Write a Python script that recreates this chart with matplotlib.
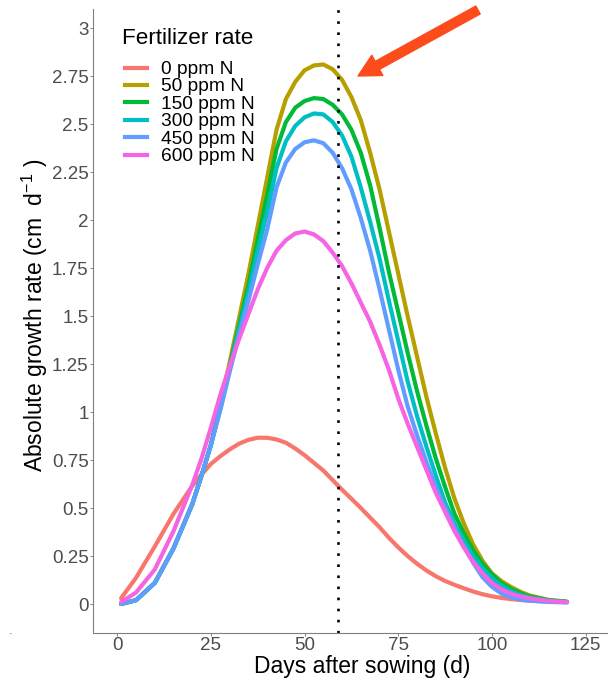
import matplotlib
matplotlib.use("Agg")
import matplotlib.pyplot as plt
from matplotlib.lines import Line2D

plt.rcParams['font.family'] = ['Liberation Sans', 'DejaVu Sans']
plt.rcParams['mathtext.fontset'] = 'custom'
plt.rcParams['mathtext.rm'] = 'Liberation Sans'
plt.rcParams['mathtext.it'] = 'Liberation Sans:italic'
plt.rcParams['mathtext.default'] = 'regular'

# ---------------- data ----------------
days = [1, 5, 10, 15, 20, 22.5, 25, 27.5, 30, 32.5, 35, 37.5, 40, 42.5, 45, 47.5,
        50, 52.5, 55, 57.5, 60, 62.5, 65, 67.5, 70, 72.5, 75, 77.5, 80, 82.5, 85,
        87.5, 90, 92.5, 95, 97.5, 100, 102.5, 105, 107.5, 110, 115, 120]

rate_0 = [0.03, 0.137, 0.30, 0.47, 0.615, 0.675, 0.73, 0.77, 0.805, 0.835, 0.855,
          0.866, 0.866, 0.857, 0.84, 0.81, 0.775, 0.735, 0.695, 0.645, 0.595,
          0.548, 0.50, 0.45, 0.40, 0.345, 0.295, 0.25, 0.21, 0.175, 0.145, 0.12,
          0.10, 0.082, 0.065, 0.051, 0.04, 0.032, 0.026, 0.021, 0.017, 0.012, 0.01]
rate_50 = [0.0, 0.02, 0.11, 0.29, 0.52, 0.67, 0.83, 1.04, 1.26, 1.49, 1.72, 1.97,
           2.22, 2.47, 2.63, 2.72, 2.78, 2.805, 2.81, 2.785, 2.73, 2.64, 2.52, 2.35,
           2.16, 1.94, 1.72, 1.50, 1.29, 1.08, 0.89, 0.71, 0.55, 0.42, 0.31, 0.225,
           0.16, 0.12, 0.09, 0.065, 0.045, 0.022, 0.012]
rate_150 = [0.0, 0.02, 0.11, 0.29, 0.52, 0.67, 0.83, 1.03, 1.24, 1.45, 1.66, 1.90,
            2.13, 2.37, 2.51, 2.585, 2.62, 2.635, 2.63, 2.60, 2.55, 2.47, 2.35,
            2.18, 1.96, 1.73, 1.52, 1.31, 1.11, 0.93, 0.76, 0.61, 0.47, 0.37, 0.28,
            0.21, 0.155, 0.11, 0.08, 0.057, 0.04, 0.02, 0.012]
rate_300 = [0.0, 0.02, 0.11, 0.29, 0.52, 0.67, 0.83, 1.02, 1.23, 1.43, 1.62, 1.84,
            2.04, 2.27, 2.41, 2.49, 2.535, 2.555, 2.55, 2.51, 2.44, 2.33, 2.17,
            1.99, 1.80, 1.58, 1.37, 1.16, 0.98, 0.82, 0.67, 0.53, 0.42, 0.33, 0.25,
            0.185, 0.135, 0.095, 0.068, 0.048, 0.034, 0.018, 0.01]
rate_450 = [0.0, 0.02, 0.11, 0.29, 0.52, 0.67, 0.83, 1.01, 1.21, 1.40, 1.58, 1.77,
            1.95, 2.17, 2.30, 2.37, 2.405, 2.415, 2.40, 2.35, 2.27, 2.16, 2.01,
            1.84, 1.64, 1.43, 1.22, 1.03, 0.88, 0.74, 0.61, 0.50, 0.40, 0.30, 0.215,
            0.14, 0.09, 0.055, 0.035, 0.024, 0.018, 0.011, 0.008]
rate_600 = [0.01, 0.06, 0.18, 0.38, 0.62, 0.76, 0.92, 1.09, 1.24, 1.38, 1.51, 1.64,
            1.75, 1.84, 1.895, 1.93, 1.94, 1.925, 1.89, 1.83, 1.76, 1.67, 1.57,
            1.47, 1.35, 1.22, 1.07, 0.94, 0.82, 0.70, 0.58, 0.48, 0.38, 0.295, 0.22,
            0.16, 0.11, 0.078, 0.055, 0.04, 0.03, 0.016, 0.009]

series = [rate_0, rate_50, rate_150, rate_300, rate_450, rate_600]
series_labels = ['0 ppm N', '50 ppm N', '150 ppm N', '300 ppm N', '450 ppm N', '600 ppm N']
series_colors = ['#F8766D', '#B79F00', '#00BA38', '#00BFC4', '#619CFF', '#F564E3']

marker_day = 59

x_ticks = [0, 25, 50, 75, 100, 125]
y_ticks = [0, 0.25, 0.5, 0.75, 1, 1.25, 1.5, 1.75, 2, 2.25, 2.5, 2.75, 3]
y_tick_labels = ['0', '0.25', '0.5', '0.75', '1', '1.25', '1.5', '1.75', '2',
                 '2.25', '2.5', '2.75', '3']

# ---------------- figure ----------------
W, H = 608, 681
fig = plt.figure(figsize=(W / 100, H / 100), dpi=100)
ax = fig.add_axes([93 / W, 48 / H, (608 - 93) / W, (633 - 9) / H])

for vals, lab, col in zip(series, series_labels, series_colors):
    ax.plot(days, vals, color=col, lw=3.0, label=lab, solid_capstyle='round',
            solid_joinstyle='round')

ax.axvline(marker_day, color='black', lw=1.9, linestyle=(0, (1, 3.2)))

ax.set_xlim(-6.5, 131.0)
ax.set_ylim(-0.151, 3.099)
ax.set_xticks(x_ticks)
ax.set_xticklabels([str(t) for t in x_ticks])
ax.set_yticks(y_ticks)
ax.set_yticklabels(y_tick_labels)

for s in ['top', 'right']:
    ax.spines[s].set_visible(False)
for s in ['left', 'bottom']:
    ax.spines[s].set_color('#808080')
    ax.spines[s].set_linewidth(0.8)

ax.tick_params(axis='both', direction='out', length=2.2, width=0.7,
               color='#808080', labelcolor='#4D4D4D', labelsize=13.5)
ax.tick_params(axis='y', pad=1.0)
ax.tick_params(axis='x', pad=0.8)

ax.set_xlabel('Days after sowing (d)', fontsize=16.5, color='black', va='baseline')
ax.xaxis.set_label_coords((362 - 93) / 515, (633 - 673) / 624)
ax.set_ylabel('Absolute growth rate (cm  d$^{-1}$ )', fontsize=16.5, color='black',
              ha='center', va='baseline', rotation_mode='anchor')
ax.yaxis.set_label_coords((42.5 - 93) / 515, (633 - 315) / 624)

# ---------------- legend (manual, figure pixel placement) ----------------
def fx(x):
    return x / W


def fy(y):
    return 1 - y / H


fig.text(fx(122), fy(44), 'Fertilizer rate', fontsize=16.2, color='black',
         ha='left', va='baseline')
base0 = 74.0
step = 17.4
for i, (lab, col) in enumerate(zip(series_labels, series_colors)):
    yb = base0 + i * step
    fig.add_artist(Line2D([fx(125), fx(147)], [fy(yb - 6.5), fy(yb - 6.5)],
                          color=col, lw=3.0, transform=fig.transFigure))
    fig.text(fx(161), fy(yb), lab, fontsize=13.8, color='black',
             ha='left', va='baseline')

# ---------------- arrow annotation ----------------
ax.annotate('', xy=(358, H - 76), xytext=(478, H - 10),
            xycoords='figure pixels', textcoords='figure pixels',
            annotation_clip=False,
            arrowprops=dict(arrowstyle='simple,head_length=15.9,head_width=16.6,tail_width=6.5',
                            mutation_scale=1, color='#FC4C1C', shrinkA=0, shrinkB=0))

fig.text(fx(10), fy(633), '-', fontsize=7, color='#999999', ha='center', va='center')

fig.savefig('out.png', dpi=100)
